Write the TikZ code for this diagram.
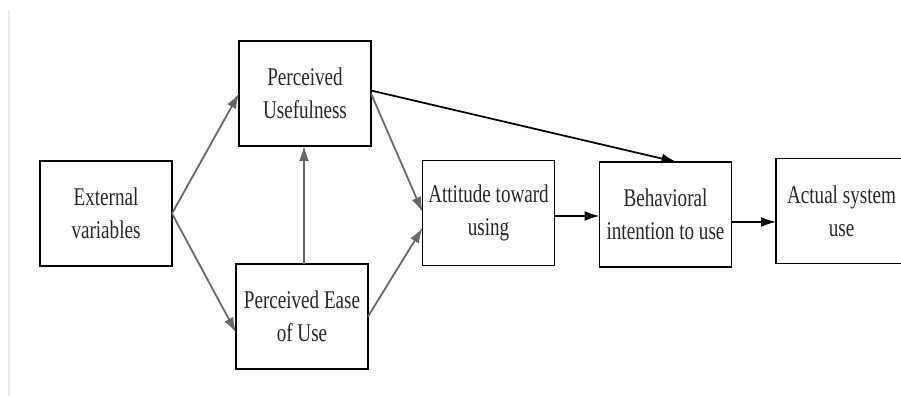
\documentclass[tikz,border=0pt]{standalone}
\usepackage{fontspec}
\newfontfamily\tamfont[FakeStretch=0.75]{Liberation Serif}
\usetikzlibrary{arrows.meta}
\begin{document}
\begin{tikzpicture}[inner sep=0pt,outer sep=0pt,line width=1pt,
>={Latex[length=0.3cm,width=0.2cm]},
tamblock/.style={draw,rectangle,inner sep=2pt,minimum width=2.64cm,minimum height=2.1cm,align=center,text=black!85,font=\tamfont\fontsize{14.5}{18.7}\selectfont}]
\useasboundingbox (0,0) rectangle (18.02,7.92);
\draw[black!8] (0.18,0) -- (0.18,7.72);
\draw (2.12,3.65) node[tamblock] (ext) {External\\variables};
\draw (6.10,6.05) node[tamblock] (pu) {Perceived\\Usefulness};
\draw (6.04,1.59) node[tamblock] (peou) {Perceived Ease\\of Use};
\draw (9.77,3.66) node[tamblock] (att) {Attitude toward\\using};
\draw (13.31,3.63) node[tamblock] (bi) {Behavioral\\intention to use};
\draw (16.83,3.70) node[tamblock,minimum width=2.62cm] (use) {Actual system\\use};

\draw[->,black!60] (ext.east) -- (pu.west);
\draw[->,black!60] (ext.east) -- ([yshift=-0.32cm]peou.west);
\draw[->,black!60] ([xshift=0.04cm]peou.north) -- ([xshift=0.04cm]peou.north |- pu.south);
\draw[->,black!60] (pu.east) -- ([yshift=0.02cm]att.west);
\draw[->,black!60] (peou.east) -- ([yshift=-0.3cm]att.west);
\draw[->] ([yshift=0.06cm]pu.east) -- ([xshift=0.22cm]bi.north);
\draw[->] ([yshift=-0.06cm]att.east) -- ([yshift=-0.06cm]att.east -| bi.west);
\draw[->] ([yshift=-0.15cm]bi.east) -- ([yshift=-0.15cm]bi.east -| use.west);
\end{tikzpicture}
\end{document}
